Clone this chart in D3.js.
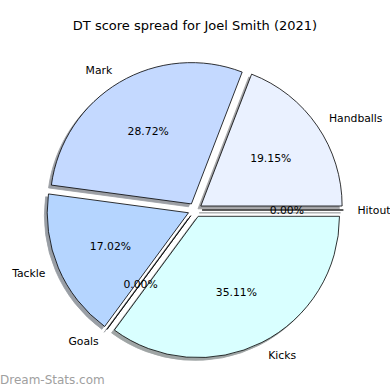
<!DOCTYPE html>
<html>
<head>
<meta charset="utf-8">
<script src="https://cdn.jsdelivr.net/npm/d3@7"></script>
<style>
  html, body { margin: 0; padding: 0; background: #fff; }
  text { font-family: "DejaVu Sans", sans-serif; }
</style>
</head>
<body>
<svg id="chart"></svg>
<script>
// counts behind the percentages, in matplotlib's order (counterclockwise from 3 o'clock)
var categories = ["Handballs", "Mark", "Tackle", "Goals", "Kicks", "Hitout"];
var counts = [18, 27, 16, 0, 33, 0];
var colours = ["#eaf1ff", "#c4d9ff", "#b5d5ff", "#c9e4ff", "#d9ffff", "#e0f0ff"];
var title = "DT score spread for Joel Smith (2021)";
var watermark = "Dream-Stats.com";

var width = 390, height = 390,
    cx = 195, cy = 210,
    radius = 141.3,
    explode = 0.05,
    shadowOff = 0.02 * radius;

var svg = d3.select("#chart")
  .attr("width", width)
  .attr("height", height);

var data = categories.map((c, i) => ({ name: c, value: counts[i], colour: colours[i] }));
var total = d3.sum(counts);

// d3 goes clockwise from 12 o'clock, so run backwards from 3 o'clock
var pie = d3.pie()
  .sort(null)
  .value(d => d.value)
  .startAngle(Math.PI / 2)
  .endAngle(Math.PI / 2 - 2 * Math.PI);

var arcs = pie(data);
var arc = d3.arc().innerRadius(0).outerRadius(radius);

function mid(d) { return (d.startAngle + d.endAngle) / 2; }
function offset(d, k) {
  var a = mid(d);
  return [k * radius * Math.sin(a), -k * radius * Math.cos(a)];
}

var g = svg.append("g").attr("transform", "translate(" + cx + "," + cy + ")");

// shadows first, under every wedge
g.append("g").selectAll("path")
  .data(arcs)
  .enter().append("path")
    .attr("d", arc)
    .attr("transform", d => {
      var o = offset(d, explode);
      return "translate(" + (o[0] - shadowOff) + "," + (o[1] + shadowOff) + ")";
    })
    .attr("fill", d => {
      var c = d3.rgb(d.data.colour);
      return d3.rgb(c.r * 0.3, c.g * 0.3, c.b * 0.3);
    })
    .attr("stroke", d => {
      var c = d3.rgb(d.data.colour);
      return d3.rgb(c.r * 0.3, c.g * 0.3, c.b * 0.3);
    })
    .attr("stroke-width", 0.8)
    .attr("opacity", 0.5);

g.append("g").selectAll("path")
  .data(arcs)
  .enter().append("path")
    .attr("d", arc)
    .attr("transform", d => {
      var o = offset(d, explode);
      return "translate(" + o[0] + "," + o[1] + ")";
    })
    .attr("fill", d => d.data.colour)
    .attr("stroke", "#000")
    .attr("stroke-width", 0.8);

// category labels at 1.1 r, aligned away from the centre
g.append("g").selectAll("text")
  .data(arcs)
  .enter().append("text")
    .attr("x", d => offset(d, explode + 1.1)[0])
    .attr("y", d => offset(d, explode + 1.1)[1])
    .attr("dy", "0.35em")
    .attr("text-anchor", d => offset(d, explode + 1.1)[0] > 0 ? "start" : "end")
    .attr("font-size", "10.8px")
    .attr("fill", "#000")
    .text(d => d.data.name);

// percentages at 0.6 r
g.append("g").selectAll("text")
  .data(arcs)
  .enter().append("text")
    .attr("x", d => offset(d, explode + 0.6)[0])
    .attr("y", d => offset(d, explode + 0.6)[1])
    .attr("dy", "0.35em")
    .attr("text-anchor", "middle")
    .attr("font-size", "10.8px")
    .attr("fill", "#000")
    .text(d => (d.value / total * 100).toFixed(2) + "%");

svg.append("text")
  .attr("x", width / 2)
  .attr("y", 25)
  .attr("dy", "0.35em")
  .attr("text-anchor", "middle")
  .attr("font-size", "13px")
  .attr("fill", "#000")
  .text(title);

svg.append("text")
  .attr("x", 0)
  .attr("y", 380)
  .attr("dy", "0.35em")
  .attr("font-size", "12px")
  .attr("fill", "#a0a0a0")
  .text(watermark);
</script>
</body>
</html>
